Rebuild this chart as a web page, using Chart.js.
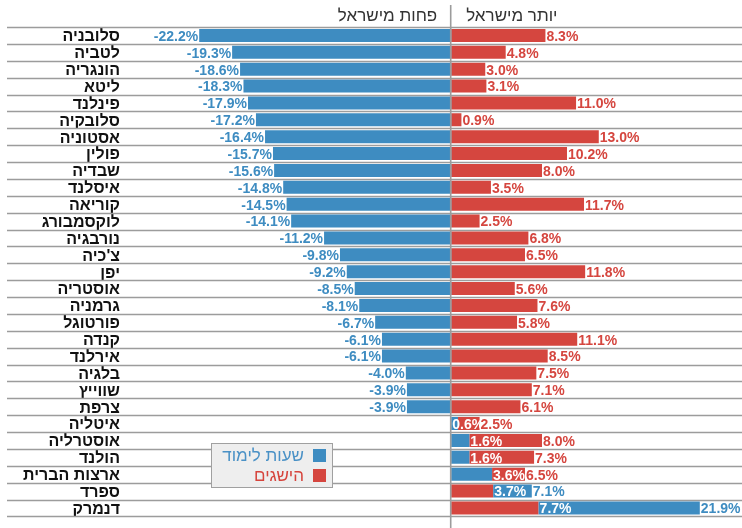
<!DOCTYPE html>
<html lang="he">
<head>
<meta charset="utf-8">
<script src="https://cdn.jsdelivr.net/npm/chart.js@4/dist/chart.umd.min.js"></script>
<style>
  html, body { margin: 0; padding: 0; background: #fff; }
  #wrap { width: 742px; height: 528px; position: relative; }
</style>
</head>
<body>
<div id="wrap"><canvas id="chart"></canvas></div>
<script>
(function () {
    'use strict';

    // data (difference from Israel, %)
    const countries = ['סלובניה', 'לטביה', 'הונגריה', 'ליטא', 'פינלנד', 'סלובקיה', 'אסטוניה', 'פולין', 'שבדיה',
        'איסלנד', 'קוריאה', 'לוקסמבורג', 'נורבגיה', "צ'כיה", 'יפן', 'אוסטריה', 'גרמניה', 'פורטוגל',
        'קנדה', 'אירלנד', 'בלגיה', 'שווייץ', 'צרפת', 'איטליה', 'אוסטרליה', 'הולנד', 'ארצות הברית', 'ספרד', 'דנמרק'];
    const studyHours = [-22.2, -19.3, -18.6, -18.3, -17.9, -17.2, -16.4, -15.7, -15.6,
        -14.8, -14.5, -14.1, -11.2, -9.8, -9.2, -8.5, -8.1, -6.7,
        -6.1, -6.1, -4.0, -3.9, -3.9, 0.6, 1.6, 1.6, 3.6, 7.1, 21.9];
    const achievements = [8.3, 4.8, 3.0, 3.1, 11.0, 0.9, 13.0, 10.2, 8.0,
        3.5, 11.7, 2.5, 6.8, 6.5, 11.8, 5.6, 7.6, 5.8,
        11.1, 8.5, 7.5, 7.1, 6.1, 2.5, 8.0, 7.3, 6.5, 3.7, 7.7];
    const seriesNames = ['שעות לימוד', 'הישגים'];
    const headerLeft = 'פחות מישראל';
    const headerRight = 'יותר מישראל';

    const BLUE = '#3e8cc1';
    const RED = '#d5463f';
    const GRID = '#9c9c9c';
    const FONT = '"Liberation Sans", Arial, "DejaVu Sans", sans-serif';

    // where both are positive the shorter bar sits in front of the longer one
    const blueBars = studyHours.map((b, i) => {
        const r = achievements[i];
        if (b < 0) return [b, 0];
        return b <= r ? [0, b] : [r, b];
    });
    const redBars = achievements.map((r, i) => {
        const b = studyHours[i];
        if (b <= 0 || r <= b) return [0, r];
        return [b, r];
    });

    const fmt = v => v.toFixed(1) + '%';

    const decor = {
        id: 'decor',
        beforeDatasetsDraw(chart) {
            const { ctx, scales: { y } } = chart;
            const h = y.getPixelForValue(1) - y.getPixelForValue(0);
            ctx.save();
            ctx.strokeStyle = GRID;
            ctx.lineWidth = 1.6;
            for (let i = 0; i <= countries.length; i++) {
                const yy = Math.round(y.getPixelForValue(i) - h / 2) + 0.5;
                ctx.beginPath();
                ctx.moveTo(7, yy);
                ctx.lineTo(chart.width, yy);
                ctx.stroke();
            }
            ctx.restore();
        },
        afterDatasetsDraw(chart) {
            const { ctx, scales: { x, y } } = chart;
            const zero = x.getPixelForValue(0);
            ctx.save();
            // zero line
            ctx.strokeStyle = GRID;
            ctx.lineWidth = 1.6;
            ctx.beginPath();
            ctx.moveTo(zero - 0.5, 5);
            ctx.lineTo(zero - 0.5, chart.height);
            ctx.stroke();

            // value labels
            ctx.font = 'bold 14px ' + FONT;
            ctx.textBaseline = 'middle';
            countries.forEach((c, i) => {
                const yy = y.getPixelForValue(i) + 1.5;
                const b = studyHours[i], r = achievements[i];
                if (b < 0) {
                    ctx.fillStyle = BLUE;
                    ctx.textAlign = 'right';
                    ctx.fillText(fmt(b), x.getPixelForValue(b) - 1, yy);
                    ctx.fillStyle = RED;
                    ctx.textAlign = 'left';
                    ctx.fillText(fmt(r), x.getPixelForValue(r) + 1, yy);
                } else {
                    const lo = Math.min(b, r), hi = Math.max(b, r);
                    const loTxt = fmt(lo), hiTxt = fmt(hi);
                    const w = ctx.measureText(loTxt).width;
                    let lx = Math.min(x.getPixelForValue(lo) + 1, x.getPixelForValue(hi) - w);
                    lx = Math.max(lx, zero + 1);
                    ctx.textAlign = 'left';
                    ctx.fillStyle = '#ffffff';
                    ctx.fillText(loTxt, lx, yy);
                    ctx.fillStyle = hi === b ? BLUE : RED;
                    ctx.fillText(hiTxt, x.getPixelForValue(hi) + 1, yy);
                }
            });
            ctx.restore();
        },
        afterDraw(chart) {
            const { ctx, scales: { x } } = chart;
            const zero = x.getPixelForValue(0);
            ctx.save();
            // headers
            ctx.font = '17px ' + FONT;
            ctx.fillStyle = '#333';
            ctx.textBaseline = 'middle';
            ctx.textAlign = 'right';
            ctx.fillText(headerLeft, zero - 14, 16);
            ctx.textAlign = 'left';
            ctx.fillText(headerRight, zero + 15, 16);

            // legend box
            ctx.fillStyle = '#eeeeee';
            ctx.fillRect(211.5, 443.5, 121, 44);
            ctx.strokeStyle = '#a0a0a0';
            ctx.lineWidth = 1;
            ctx.strokeRect(211.5, 443.5, 121, 44);
            ctx.fillStyle = BLUE;
            ctx.fillRect(313, 449, 13, 13);
            ctx.fillStyle = RED;
            ctx.fillRect(313, 469, 13, 13);
            ctx.font = '17px ' + FONT;
            ctx.textAlign = 'right';
            ctx.fillStyle = '#4a91c6';
            ctx.fillText(seriesNames[0], 304, 456);
            ctx.fillStyle = '#d6443c';
            ctx.fillText(seriesNames[1], 304, 476);
            ctx.restore();
        }
    };

    function init() {
        const canvas = document.getElementById('chart');
        new Chart(canvas.getContext('2d'), {
            type: 'bar',
            data: {
                labels: countries,
                datasets: [
                    { label: seriesNames[1], data: redBars, backgroundColor: RED, grouped: false, order: 2 },
                    { label: seriesNames[0], data: blueBars, backgroundColor: BLUE, grouped: false, order: 1 }
                ]
            },
            options: {
                indexAxis: 'y',
                responsive: true,
                maintainAspectRatio: false,
                animation: false,
                barPercentage: 0.77,
                categoryPercentage: 1,
                layout: { padding: { top: 27, bottom: 3, right: 7, left: 0 } },
                plugins: { legend: { display: false }, tooltip: { enabled: false } },
                scales: {
                    x: { display: false, min: -29, max: 25 },
                    y: {
                        grid: { display: false, drawTicks: false },
                        border: { display: false },
                        ticks: {
                            color: '#111',
                            padding: 2,
                            labelOffset: 1.5,
                            autoSkip: false,
                            font: { family: FONT, size: 16, weight: 'bold' }
                        },
                        afterFit: scale => { scale.width = 122; }
                    }
                }
            },
            plugins: [decor]
        });
    }

    document.addEventListener('DOMContentLoaded', init);
})();
</script>
</body>
</html>
